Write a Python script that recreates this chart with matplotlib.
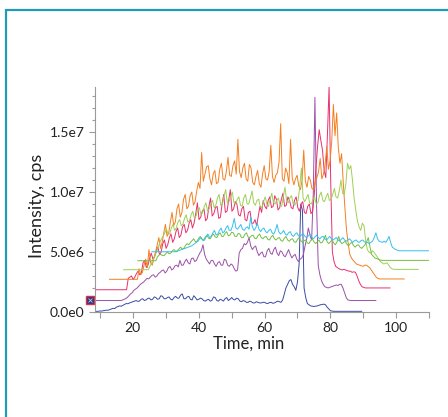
import numpy as np
import matplotlib.pyplot as plt
from matplotlib.patches import Rectangle
from matplotlib.ticker import FuncFormatter, MultipleLocator

# raw time grid of every run, min (half-minute steps)
raw_time = np.arange(0, 90, 0.5)

# intensities per run, 1e6 cps, before the waterfall offset
blue = [0.05] * 20 + [
    0.08, 0.07, 0.1, 0.12, 0.15, 0.14, 0.2, 0.25, 0.3, 0.28, 0.4, 0.45, 0.5, 0.48, 0.55, 0.62, 0.7, 0.68, 0.75, 0.8,
    0.85, 0.9, 0.95, 0.88, 0.9, 1.05, 1.1, 0.95, 1.0, 1.12, 1.15, 1.0, 1.05, 1.25, 1.2, 1.05, 1.1, 1.35, 1.3, 1.1,
    1.1, 1.2, 1.25, 1.05, 1.0, 1.2, 1.3, 1.15, 1.15, 1.4, 1.5, 1.1, 1.1, 1.25, 1.3, 1.05, 1.0, 1.35, 1.2, 1.0,
    1.05, 1.15, 1.1, 0.95, 0.9, 1.0, 1.05, 0.9, 0.95, 1.25, 1.2, 0.95, 0.9, 1.05, 1.0, 0.9, 1.1, 1.2, 0.95, 1.05,
    1.2, 1.05, 1.0, 1.15, 1.1, 0.9, 0.85, 0.95, 0.9, 0.8, 0.8, 0.9, 0.85, 0.75, 0.75, 0.85, 0.8, 0.75, 0.75, 0.8,
    0.8, 0.72, 0.7, 0.78, 0.8, 0.72, 0.75, 0.82, 0.9, 0.85, 0.8, 1.0, 1.5, 2.0, 2.3, 2.6, 2.7, 2.3, 2.1, 1.8,
    2.5, 4.0, 9.0, 8.5, 2.0, 1.2, 0.7, 0.6, 0.5, 0.48, 0.45, 0.48, 0.5, 0.55, 0.6, 0.62, 0.65, 0.6, 0.4, 0.25,
    0.1, 0.07] + [0.05] * 18
purple = [0.05] * 24 + [
    0.05, 0.08, 0.15, 0.2, 0.3, 0.45, 0.6, 0.7, 0.9, 1.0, 1.1, 1.25, 1.4, 1.5, 1.6, 1.75,
    1.9, 1.85, 2.0, 2.15, 2.2, 2.0, 2.1, 2.3, 2.4, 2.55, 2.6, 2.35, 2.5, 2.8, 2.9, 2.6, 2.7, 2.95, 3.0, 2.85,
    3.4, 3.0, 3.0, 3.3, 3.5, 3.2, 3.1, 3.55, 3.6, 3.3, 3.4, 3.7, 4.0, 4.2, 4.7, 3.9, 3.5, 3.3, 3.1, 3.4,
    3.4, 3.1, 2.9, 3.2, 3.3, 3.0, 3.0, 3.5, 3.4, 3.0, 2.9, 3.1, 3.0, 2.7, 2.5, 2.6, 4.0, 4.3, 4.4, 4.8,
    4.7, 4.9, 5.3, 4.6, 4.3, 4.5, 4.6, 4.1, 3.8, 4.0, 4.1, 3.7, 3.7, 4.2, 4.4, 4.0, 3.9, 4.3, 4.5, 4.0,
    3.8, 4.2, 4.1, 3.8, 3.7, 4.0, 4.3, 3.9, 3.6, 3.8, 3.9, 3.5, 3.3, 3.5, 3.6, 3.9, 4.6, 5.2, 6.1, 5.5,
    5.1, 9.0, 17.0, 8.0, 3.0, 2.2, 1.7, 1.4, 1.2, 1.15, 1.1, 1.15, 1.2, 1.25, 1.3, 1.35, 1.3, 1.4, 1.4, 1.1,
    0.7, 0.3, 0.1, 0.07] + [0.05] * 16
pink = [0.05] * 20 + [
    1.0, 1.1, 1.2, 0.9, 1.1, 1.4, 1.6, 1.3, 1.5, 2.3, 2.5, 1.9, 2.1, 2.7, 3.1, 2.6, 2.8, 3.3, 3.6, 3.0,
    3.2, 3.9, 4.2, 3.5, 3.8, 4.4, 4.7, 4.0, 4.3, 4.9, 5.2, 4.4, 4.6, 5.3, 5.5, 4.8, 5.0, 5.6, 5.9, 5.2,
    5.6, 6.4, 7.3, 5.9, 6.1, 6.6, 6.8, 5.8, 6.0, 7.0, 7.7, 6.2, 6.4, 6.9, 7.0, 6.0, 6.1, 7.2, 8.0, 6.5,
    6.6, 7.5, 8.4, 6.6, 6.8, 7.4, 7.2, 6.3, 6.2, 6.8, 7.0, 5.9, 5.8, 6.5, 6.6, 5.6, 5.6, 5.9, 5.4, 6.2,
    7.0, 6.5, 7.5, 7.0, 6.8, 7.5, 7.8, 6.9, 7.0, 7.9, 7.6, 6.7, 6.9, 7.6, 8.1, 7.0, 7.1, 7.8, 7.5, 6.9,
    6.8, 7.5, 7.8, 6.9, 6.6, 7.2, 7.4, 6.5, 6.4, 7.0, 7.2, 6.4, 6.6, 8.0, 10.2, 12.0, 13.4, 12.5, 11.7, 10.0,
    9.4, 13.0, 17.0, 9.0, 3.2, 2.4, 2.0, 1.9, 1.8, 1.75, 1.7, 1.75, 1.7, 1.65, 1.6, 1.6, 1.5, 1.55, 1.5, 1.2,
    0.8, 0.5, 0.3, 0.25] + [0.2] * 16
orange = [0.02] * 18 + [
    0.9, 0.4,
    0.6, 1.2, 1.7, 1.0, 2.5, 1.4, 1.2, 1.8, 2.3, 2.9, 3.5, 2.6, 3.1, 3.9, 4.6, 3.6, 3.9, 4.8, 5.6, 4.5,
    4.8, 5.9, 6.3, 5.2, 5.6, 6.7, 7.1, 5.9, 6.1, 7.0, 7.3, 6.2, 6.5, 7.4, 8.1, 7.6, 10.6, 8.2, 8.8, 9.4,
    9.5, 8.4, 7.9, 8.8, 9.1, 8.0, 8.1, 9.2, 9.7, 8.4, 8.3, 9.0, 10.2, 8.7, 8.6, 9.5, 9.9, 8.8, 11.7, 9.0,
    8.5, 9.3, 9.7, 8.4, 8.2, 9.6, 9.3, 8.1, 7.9, 8.6, 9.1, 8.0, 7.7, 8.8, 9.5, 8.4, 8.3, 9.0, 11.2, 8.6,
    8.1, 8.7, 8.9, 9.8, 13.0, 8.4, 8.2, 9.3, 8.9, 8.0, 11.7, 8.5, 7.9, 8.4, 8.7, 7.8, 7.5, 8.3, 10.8, 8.2,
    7.7, 8.6, 8.3, 7.6, 7.5, 8.2, 8.5, 9.0, 10.1, 8.4, 8.8, 9.6, 11.1, 9.2, 9.9, 11.5, 14.6, 12.0, 13.9, 11.0,
    9.7, 10.5, 8.1, 6.0, 4.1, 3.0, 2.1, 1.8, 1.6, 1.45, 1.3, 1.25, 1.2, 1.15, 1.1, 1.2, 1.2, 1.1, 1.0, 0.8,
    0.6, 0.4, 0.2, 0.1] + [0.05] * 16
light_green = [0.02] * 16 + [
    0.3, 0.6, 0.9, 1.2,
    1.5, 1.9, 2.3, 2.6, 2.8, 3.1, 3.4, 3.0, 3.0, 3.5, 3.8, 3.3, 3.5, 4.0, 4.2, 3.7, 3.8, 4.3, 4.6, 4.0,
    4.1, 4.6, 4.9, 4.3, 4.5, 5.0, 5.2, 4.6, 4.8, 5.3, 5.6, 4.9, 5.1, 5.5, 5.8, 5.2, 5.4, 6.0, 6.3, 5.4,
    5.5, 6.2, 6.7, 5.6, 5.7, 6.1, 6.5, 5.6, 5.5, 5.9, 6.1, 5.4, 5.3, 6.0, 6.3, 5.5, 5.5, 6.0, 6.6, 5.6,
    5.4, 5.8, 5.9, 5.3, 5.2, 5.7, 6.1, 5.5, 5.3, 5.9, 6.4, 5.6, 5.5, 5.8, 6.0, 5.4, 5.3, 6.1, 6.9, 5.8,
    5.6, 6.0, 6.2, 5.5, 5.4, 5.7, 5.8, 7.0, 8.5, 6.0, 5.7, 6.0, 6.3, 5.6, 5.5, 5.9, 6.1, 5.5, 5.6, 6.2,
    6.5, 5.8, 5.7, 6.1, 6.4, 5.8, 5.9, 6.3, 6.8, 6.1, 6.0, 6.6, 7.5, 6.4, 6.3, 7.2, 8.9, 8.4, 8.7, 7.5,
    6.0, 5.0, 4.1, 3.6, 3.3, 3.9, 3.7, 2.5, 1.7, 1.5, 1.4, 1.6, 1.5, 1.3, 1.1, 0.9, 0.7, 0.6, 0.5, 0.55,
    0.6, 0.4, 0.2, 0.1] + [0.05] * 16
green = [0.02] * 12 + [
    0.35, 0.5, 0.55, 0.45, 0.45, 0.6, 0.75, 0.6,
    0.65, 0.85, 0.95, 0.8, 0.85, 1.0, 1.15, 1.0, 1.05, 1.3, 1.45, 1.35, 1.55, 1.7, 1.85, 1.6, 1.65, 1.9, 2.05, 1.8,
    1.75, 2.0, 2.15, 1.9, 1.85, 2.1, 2.25, 2.0, 1.95, 2.2, 2.35, 2.05, 2.05, 2.3, 2.45, 2.1, 2.15, 2.4, 2.35, 2.05,
    2.05, 2.3, 2.25, 1.95, 1.95, 2.2, 2.35, 2.0, 1.95, 2.1, 2.15, 1.9, 1.85, 2.1, 2.25, 1.95, 1.85, 2.0, 2.05, 1.8,
    1.75, 2.0, 2.15, 1.85, 1.75, 1.9, 1.95, 1.7, 1.65, 1.9, 2.05, 1.75, 1.65, 1.8, 1.85, 1.6, 1.55, 1.8, 1.95, 1.7,
    1.55, 1.7, 1.75, 1.5, 1.45, 1.7, 1.85, 1.6, 1.45, 1.6, 1.75, 1.5, 1.55, 1.8, 2.15, 1.6, 1.45, 1.6, 1.75, 1.5,
    1.35, 1.6, 2.05, 1.6, 1.45, 1.55, 1.65, 1.4, 1.25, 1.45, 1.55, 1.3, 1.15, 1.3, 1.35, 1.15, 1.05, 1.2, 1.35, 1.6,
    1.95, 1.2, 0.55, 0.4, 0.25, 0.2, 0.15, 0.1] + [0.05] * 32
cyan = [0.02] * 16 + [
    0.1, 0.15, 0.2, 0.25,
    0.3, 0.35, 0.4, 0.45, 0.5, 0.6, 0.7, 0.8, 0.9, 1.1, 1.2, 0.95, 1.0, 1.3, 1.5, 1.2, 1.3, 1.6, 1.8, 1.4,
    1.5, 1.8, 2.0, 1.6, 1.7, 2.0, 2.2, 1.8, 1.8, 2.2, 2.8, 2.0, 1.9, 2.1, 2.3, 1.9, 1.8, 2.0, 2.1, 1.9,
    2.9, 2.1, 1.8, 2.0, 2.4, 1.9, 1.7, 1.9, 2.0, 1.7, 1.6, 1.8, 1.9, 1.6, 1.5, 1.8, 2.3, 1.7, 1.5, 1.6,
    1.8, 1.5, 1.4, 1.6, 1.7, 1.4, 1.3, 1.5, 1.6, 1.35, 1.3, 1.45, 1.5, 1.3, 1.2, 1.35, 1.5, 1.25, 1.1, 1.25,
    1.4, 1.2, 1.1, 1.25, 1.3, 1.1, 1.0, 1.15, 1.3, 1.1, 1.0, 1.1, 1.2, 1.0, 0.9, 1.05, 1.2, 1.0, 0.9, 1.0,
    1.1, 0.95, 0.8, 0.95, 1.0, 0.85, 0.8, 0.95, 1.0, 0.85, 0.8, 0.8, 0.7, 0.8, 0.9, 1.2, 1.6, 1.1, 0.9, 0.85,
    0.8, 0.9, 0.8, 1.0, 1.3, 0.8, 0.4, 0.3, 0.2, 0.15] + [0.1] * 30

runs = [blue, purple, pink, orange, light_green, green, cyan]
colors = ['#3b4ba3', '#9b50a8', '#e8306e', '#f57f20', '#9fcf55', '#76be43', '#35c0ee']
time_shift = [0, 4.3, 8.6, 12.9, 17.2, 21.5, 25.8]
intensity_shift = [0, 0.9, 1.8, 2.7, 3.5, 4.25, 5.0]

yticks = [0, 5e6, 1e7, 1.5e7]


def sci_label(v, pos):
    if v == 0:
        return '0.0e0'
    exp = int(np.floor(np.log10(v)))
    return '%.1fe%d' % (v / 10 ** exp, exp)


plt.rcParams['font.family'] = ['Lato', 'DejaVu Sans']

fig = plt.figure(figsize=(4.48, 4.17), dpi=100)
ax = fig.add_axes([0.212, 0.252, 0.746, 0.539])

for run, c, dx, dy in zip(runs, colors, time_shift, intensity_shift):
    ax.plot(raw_time + dx, (np.array(run) + dy) * 1e6, color=c, lw=0.7)

# little baseline marker left of the axis
mark = ax.get_yaxis_transform()
ax.plot([-0.015], [1.0e6], marker='s', ms=5.5, mfc='#2e3380', mec='#d8304a',
        mew=1.0, transform=mark, clip_on=False)
ax.plot([-0.015], [1.0e6], marker='x', ms=3, mec='#c9c9e6', mew=0.6,
        transform=mark, clip_on=False)

ax.set_xlim(8.5, 110)
ax.set_ylim(0, 18.75e6)
ax.xaxis.set_major_locator(MultipleLocator(20))
ax.xaxis.set_minor_locator(MultipleLocator(10))
ax.set_yticks(yticks)
ax.yaxis.set_minor_locator(MultipleLocator(1e6))
ax.yaxis.set_major_formatter(FuncFormatter(sci_label))

for side in ['top', 'right']:
    ax.spines[side].set_visible(False)
for side in ['left', 'bottom']:
    ax.spines[side].set_color('#9a9a9a')
    ax.spines[side].set_linewidth(0.8)
ax.tick_params(which='both', direction='out', color='#9a9a9a', width=0.8, labelsize=10,
               labelcolor='#222222')
ax.tick_params(which='major', length=4)
ax.tick_params(which='minor', length=2.5)
ax.tick_params(axis='x', which='minor', length=4)

ax.set_xlabel('Time, min', fontsize=12, color='#222222', labelpad=4)
ax.xaxis.set_label_coords(0.461, -0.105)
ax.set_ylabel('Intensity, cps', fontsize=13, color='#222222')
ax.yaxis.set_label_coords(-0.15, 0.47)

# teal frame around the panel
fig.patches.append(Rectangle((0.0145, -0.5), 1.5, 1.475, transform=fig.transFigure,
                             fill=False, edgecolor='#1f9bb8', linewidth=1.6))

fig.savefig('out.png', dpi=100)
